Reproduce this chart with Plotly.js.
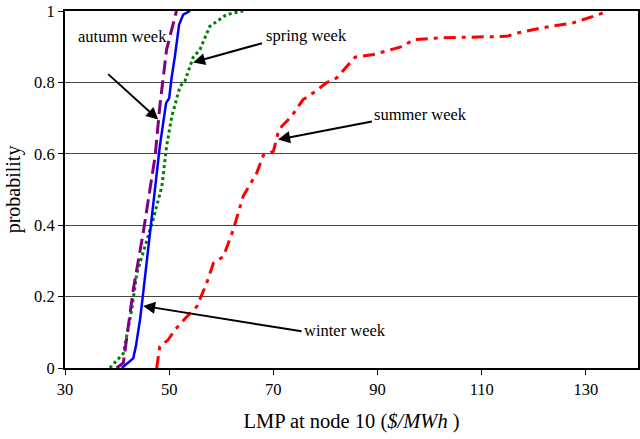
<!DOCTYPE html>
<html>
<head>
<meta charset="utf-8">
<script src="https://cdn.plot.ly/plotly-3.0.1.min.js"></script>
<style>html,body{margin:0;padding:0;background:#fff;}#chart{width:640px;height:439px;}</style>
</head>
<body>
<div id="chart"></div>
<script>
const autumnX = [39.9, 41.2, 43.1, 45.0, 47.3, 48.2, 49.5, 51.4];
const autumnY = [0.0, 0.014, 0.219, 0.378, 0.593, 0.733, 0.892, 1.0];

const winterX = [40.9, 43.1, 43.6, 44.4, 45.0, 46.3, 47.3, 48.2, 49.4, 50.0, 50.5, 51.1, 51.9, 52.7, 54.0];
const winterY = [0.0, 0.027, 0.06, 0.135, 0.209, 0.378, 0.509, 0.621, 0.742, 0.756, 0.817, 0.873, 0.962, 0.99, 1.0];

const springX = [38.6, 39.9, 41.2, 42.8, 43.8, 46.9, 48.6, 49.5, 50.5, 52.1, 53.0, 54.6, 55.9, 57.8, 61.0, 64.2];
const springY = [0.0, 0.022, 0.041, 0.163, 0.266, 0.415, 0.509, 0.621, 0.705, 0.789, 0.803, 0.87, 0.892, 0.957, 0.99, 1.0];

const summerX = [47.6, 48.2, 49.8, 51.1, 53.4, 55.3, 57.2, 58.5, 60.4, 62.3, 64.2, 66.8, 68.1, 70.0, 70.9, 71.6, 73.5, 75.7, 77.7, 80.2, 82.2, 84.1, 85.7, 89.2, 94.9, 96.9, 102.6, 114.8, 116.7, 121.2, 127.6, 131.4, 134.3];
const summerY = [0.0, 0.06, 0.079, 0.107, 0.144, 0.172, 0.238, 0.294, 0.312, 0.387, 0.481, 0.546, 0.597, 0.607, 0.658, 0.677, 0.705, 0.752, 0.771, 0.799, 0.813, 0.845, 0.871, 0.878, 0.901, 0.92, 0.925, 0.929, 0.938, 0.952, 0.967, 0.985, 1.0];

const xTicks = [30, 50, 70, 90, 110, 130];
const yTicks = [0, 0.2, 0.4, 0.6, 0.8, 1];
const yTickText = ['0', '0.2', '0.4', '0.6', '0.8', '1'];

const labels = ['autumn week', 'spring week', 'summer week', 'winter week'];
const labelX = [41.1, 76.4, 98.3, 83.7];
const labelY = [0.928, 0.931, 0.71, 0.104];
const arrowHeadX = [47.9, 54.6, 70.9, 45.0];
const arrowHeadY = [0.696, 0.856, 0.64, 0.174];
const arrowTailX = [38.0, 68.1, 89.2, 75.7];
const arrowTailY = [0.827, 0.911, 0.691, 0.102];

const font = 'Liberation Serif, Times New Roman, serif';

const traces = [
  {x: summerX, y: summerY, mode: 'lines', line: {color: '#FF0000', width: 3, dash: '12px,6px,4px,6px'}, hoverinfo: 'skip'},
  {x: springX, y: springY, mode: 'lines', line: {color: '#008000', width: 3, dash: 'dot'}, hoverinfo: 'skip'},
  {x: winterX, y: winterY, mode: 'lines', line: {color: '#0000FF', width: 2.5}, hoverinfo: 'skip'},
  {x: autumnX, y: autumnY, mode: 'lines', line: {color: '#800080', width: 3, dash: '14px,6px'}, hoverinfo: 'skip'}
];

const annotations = [];
for (let i = 0; i < labels.length; i++) {
  annotations.push({
    x: arrowHeadX[i], y: arrowHeadY[i], xref: 'x', yref: 'y',
    ax: arrowTailX[i], ay: arrowTailY[i], axref: 'x', ayref: 'y',
    text: '', showarrow: true, arrowhead: 2, arrowsize: 1.2, arrowwidth: 2, arrowcolor: '#000'
  });
  annotations.push({
    x: labelX[i], y: labelY[i], xref: 'x', yref: 'y',
    text: labels[i], showarrow: false,
    font: {family: font, size: 16.5, color: '#000'}
  });
}

const layout = {
  width: 640, height: 439,
  margin: {l: 65, r: 2, t: 11, b: 71},
  paper_bgcolor: '#fff', plot_bgcolor: '#fff',
  showlegend: false,
  font: {family: font, color: '#000', size: 16.5},
  xaxis: {
    range: [30, 140], tickvals: xTicks, ticks: 'outside', ticklen: 5, tickcolor: '#000',
    showgrid: false, zeroline: false, showline: true, linecolor: '#000', linewidth: 2, mirror: true,
    tickfont: {family: font, size: 16.5},
    title: {text: 'LMP at node 10 (<i>$/MWh</i> )', font: {family: font, size: 20.5}, standoff: 16}
  },
  yaxis: {
    range: [0, 1], tickvals: yTicks, ticktext: yTickText, ticks: 'outside', ticklen: 5, tickcolor: '#000',
    showgrid: true, gridcolor: '#444', gridwidth: 1, zeroline: false,
    showline: true, linecolor: '#000', linewidth: 2, mirror: true,
    tickfont: {family: font, size: 16.5},
    title: {text: 'probability', font: {family: font, size: 20}, standoff: 8}
  },
  annotations: annotations
};

Plotly.newPlot('chart', traces, layout, {staticPlot: true, displayModeBar: false});
</script>
</body>
</html>
